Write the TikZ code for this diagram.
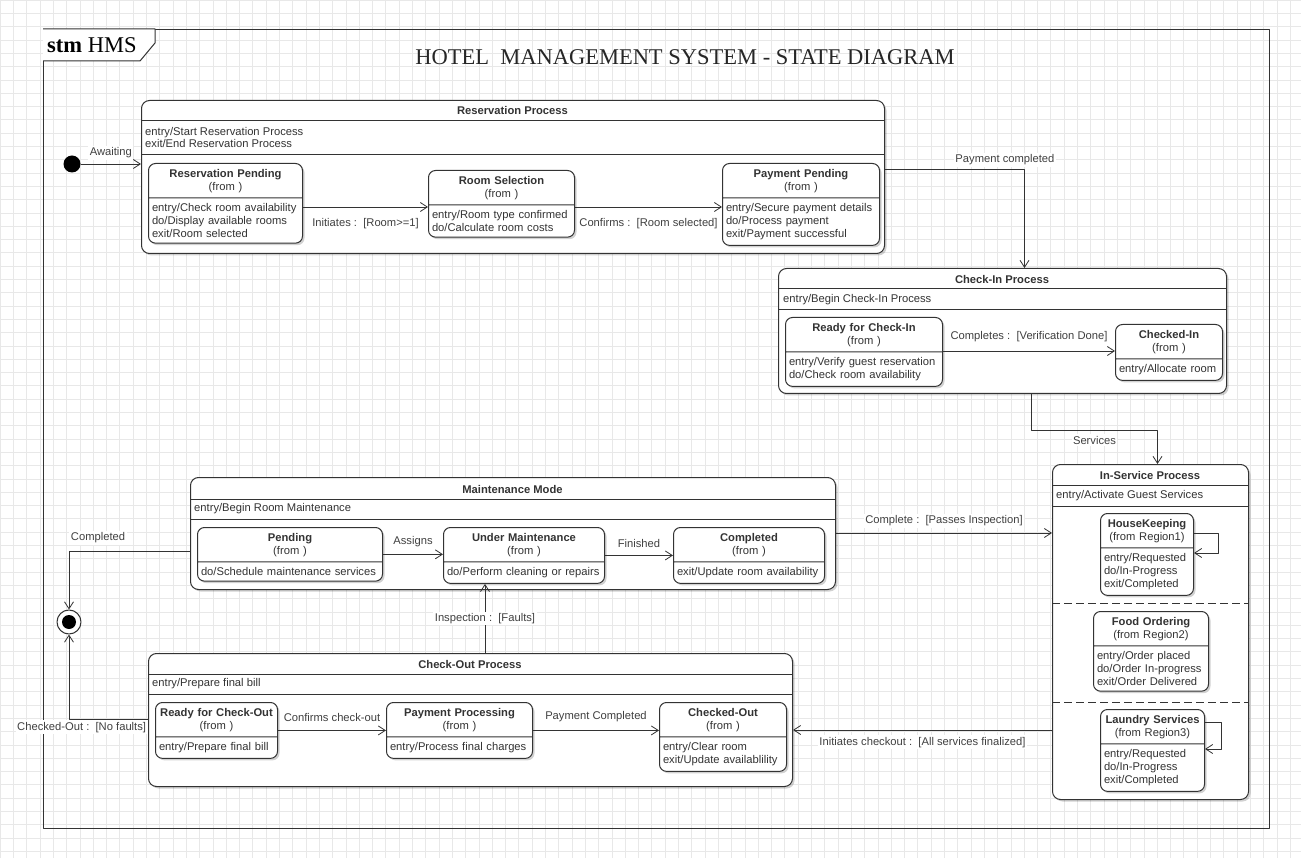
\documentclass[tikz,border=0pt]{standalone}
\usepackage{fontspec}
\setmainfont{Liberation Sans}
\newfontfamily\serifhead{Liberation Serif}
\usetikzlibrary{arrows.meta, shapes.multipart, shadows}
\newcommand\sthead[2]{\makebox[\hsize]{\textbf{#1}}\\\makebox[\hsize]{#2}}

\begin{document}
\begin{tikzpicture}[x=1pt, y=-1pt, line join=round,
    font=\fontsize{11.2}{13}\selectfont, text=black!80,
    >={Straight Barb[length=7pt, width=9pt]},
    softshadow/.style={drop shadow={shadow xshift=2pt, shadow yshift=-2pt, opacity=0.18, fill=black}},
    superstate/.style={draw=black!80, line width=1pt, rounded corners=8pt, fill=white, anchor=north west, inner sep=0pt, softshadow},
    substate/.style={rectangle split, rectangle split parts=2, draw=black!80, line width=1pt, rounded corners=7pt, fill=white, anchor=north west, align=left, text width=#1, inner xsep=3.5pt, inner ysep=5pt, softshadow},
    sttitle/.style={font=\fontsize{11.2}{13}\selectfont\bfseries, inner sep=0pt},
    actions/.style={anchor=west, align=left, inner sep=0pt},
    divider/.style={draw=black!80, line width=1pt},
    tlabel/.style={fill=white, inner sep=1.5pt, text=black!75},
    trans/.style={->, draw=black!80, line width=0.8pt},
    gridline/.style={draw=black!9, line width=0.5pt}]

    \useasboundingbox (0,0) rectangle (1301,858);
    \fill[white] (0,0) rectangle (1301,858);
    \draw[gridline, step=13.3pt] (0,858) grid (1301,0);

    \node (frame) at (43, 29) [anchor=north west, draw=black!80, line width=1pt, minimum width=1226, minimum height=799, inner sep=0pt] {};
    \draw[divider, fill=white] (frame.north west) -- ++(112,0) -- ++(0,14) -- ++(-15,18) -- (frame.north west |- 0,61);
    \node (tab) at (47, 45) [anchor=west, inner sep=0pt, text=black, font=\serifhead\fontsize{22.5}{24}\selectfont] {\textbf{stm} HMS};
    \node (title) at (685, 57) [text=black!85, font=\serifhead\fontsize{22.5}{24}\selectfont] {HOTEL\ \ MANAGEMENT SYSTEM - STATE DIAGRAM};

    \node (resproc) at (141, 100) [superstate, minimum width=743, minimum height=153] {};
    \node (chkinproc) at (778, 268) [superstate, minimum width=448, minimum height=125] {};
    \node (servproc) at (1052, 464) [superstate, minimum width=196, minimum height=335] {};
    \node (maintproc) at (190, 477) [superstate, minimum width=645, minimum height=112] {};
    \node (chkoutproc) at (148, 653) [superstate, minimum width=644, minimum height=133] {};

    \draw[divider] (resproc.west |- 0,121) -- (resproc.east |- 0,121);
    \draw[divider] (resproc.west |- 0,155) -- (resproc.east |- 0,155);
    \draw[divider] (chkinproc.west |- 0,289) -- (chkinproc.east |- 0,289);
    \draw[divider] (chkinproc.west |- 0,310) -- (chkinproc.east |- 0,310);
    \draw[divider] (servproc.west |- 0,485) -- (servproc.east |- 0,485);
    \draw[divider] (servproc.west |- 0,506) -- (servproc.east |- 0,506);
    \draw[divider, dash pattern=on 8pt off 4pt] (servproc.west |- 0,603) -- (servproc.east |- 0,603);
    \draw[divider, dash pattern=on 8pt off 4pt] (servproc.west |- 0,702) -- (servproc.east |- 0,702);
    \draw[divider] (maintproc.west |- 0,499) -- (maintproc.east |- 0,499);
    \draw[divider] (maintproc.west |- 0,519) -- (maintproc.east |- 0,519);
    \draw[divider] (chkoutproc.west |- 0,674) -- (chkoutproc.east |- 0,674);
    \draw[divider] (chkoutproc.west |- 0,694) -- (chkoutproc.east |- 0,694);

    \node (resproc-t) at (512.5, 110.5) [sttitle] {Reservation Process};
    \node (resproc-a) at (145, 137.5) [actions] {entry/Start Reservation Process\\exit/End Reservation Process};
    \node (chkinproc-t) at (1002, 279) [sttitle] {Check-In Process};
    \node (chkinproc-a) at (783, 299.5) [actions] {entry/Begin Check-In Process};
    \node (servproc-t) at (1150, 475) [sttitle] {In-Service Process};
    \node (servproc-a) at (1056, 495.5) [actions] {entry/Activate Guest Services};
    \node (maintproc-t) at (512.5, 489) [sttitle] {Maintenance Mode};
    \node (maintproc-a) at (194, 509) [actions] {entry/Begin Room Maintenance};
    \node (chkoutproc-t) at (470, 664) [sttitle] {Check-Out Process};
    \node (chkoutproc-a) at (152, 684) [actions] {entry/Prepare final bill};

    \node (respend) at (148, 163) [substate=147pt] {\sthead{Reservation Pending}{(from )}\nodepart{two}entry/Check room availability\\do/Display available rooms\\exit/Room selected};
    \node (roomsel) at (428, 170) [substate=139pt] {\sthead{Room Selection}{(from )}\nodepart{two}entry/Room type confirmed\\do/Calculate room costs};
    \node (paypend) at (722, 163) [substate=150pt] {\sthead{Payment Pending}{(from )}\nodepart{two}entry/Secure payment details\\do/Process payment\\exit/Payment successful};
    \node (readyin) at (785, 317) [substate=150pt] {\sthead{Ready for Check-In}{(from )}\nodepart{two}entry/Verify guest reservation\\do/Check room availability};
    \node (checkedin) at (1115, 324) [substate=100pt] {\sthead{Checked-In}{(from )}\nodepart{two}entry/Allocate room};
    \node (housekeep) at (1100, 513) [substate=86pt] {\sthead{HouseKeeping}{(from Region1)}\nodepart{two}entry/Requested\\do/In-Progress\\exit/Completed};
    \node (food) at (1093, 611) [substate=108pt] {\sthead{Food Ordering}{(from Region2)}\nodepart{two}entry/Order placed\\do/Order In-progress\\exit/Order Delivered};
    \node (laundry) at (1100, 709) [substate=97pt] {\sthead{Laundry Services}{(from Region3)}\nodepart{two}entry/Requested\\do/In-Progress\\exit/Completed};
    \node (pending) at (197, 527) [substate=178pt] {\sthead{Pending}{(from )}\nodepart{two}do/Schedule maintenance services};
    \node (undermaint) at (443, 527) [substate=154pt] {\sthead{Under Maintenance}{(from )}\nodepart{two}do/Perform cleaning or repairs};
    \node (completed) at (673, 527) [substate=144pt] {\sthead{Completed}{(from )}\nodepart{two}exit/Update room availability};
    \node (readyout) at (155, 702) [substate=115pt] {\sthead{Ready for Check-Out}{(from )}\nodepart{two}entry/Prepare final bill};
    \node (payproc) at (386, 702) [substate=139pt] {\sthead{Payment Processing}{(from )}\nodepart{two}entry/Process final charges};
    \node (checkedout) at (659, 702) [substate=120pt] {\sthead{Checked-Out}{(from )}\nodepart{two}entry/Clear room\\exit/Update availablility};

    \node (init) at (72, 164) [circle, fill=black, minimum size=17, inner sep=0pt] {};
    \node (final) at (69, 622) [circle, draw=black!80, line width=1pt, fill=white, minimum size=24, inner sep=0pt, path picture={\fill[black] (path picture bounding box.center) circle (7pt);}] {};

    \draw[trans] (init) -- node[tlabel, above=4pt] {Awaiting} (init -| resproc.west);
    \draw[trans] (respend.east |- 0,207) -- node[tlabel, below=9pt] {Initiates :\ \ [Room>=1]} (roomsel.west |- 0,207);
    \draw[trans] (roomsel.east |- 0,207) -- node[tlabel, below=9pt] {Confirms :\ \ [Room selected]} (paypend.west |- 0,207);
    \draw[trans] (resproc.east |- 0,169) -| node[tlabel, above=2pt, pos=0.43] {Payment completed} ([xshift=22pt]chkinproc.north);
    \draw[trans] (readyin.east |- 0,351) -- node[tlabel, above=7pt] {Completes :\ \ [Verification Done]} (checkedin.west |- 0,351);
    \draw[trans] ([xshift=29pt]chkinproc.south) -- ++(0,36) -| node[tlabel, below=4pt, pos=0.25] {Services} ([xshift=7pt]servproc.north);
    \draw[trans] (housekeep.east |- 0,533) -- ++(24,0) |- (housekeep.east |- 0,553);
    \draw[trans] (laundry.east |- 0,722) -- ++(16,0) |- (laundry.east |- 0,749);
    \draw[trans] (maintproc.east |- 0,533) -- node[tlabel, above=5pt] {Complete :\ \ [Passes Inspection]} (servproc.west |- 0,533);
    \draw[trans] (servproc.west |- 0,730) -- node[tlabel, below=5pt] {Initiates checkout :\ \ [All services finalized]} (chkoutproc.east |- 0,730);
    \draw[trans] (pending.east) -- node[tlabel, above=6pt] {Assigns} (undermaint.west |- pending.east);
    \draw[trans] (undermaint.east) -- node[tlabel, above=6pt] {Finished} (completed.west |- undermaint.east);
    \draw[trans] (chkoutproc.north -| 485,0) -- node[tlabel] {Inspection :\ \ [Faults]} (undermaint.south -| 485,0);
    \draw[trans] (readyout) -- node[tlabel, above=7pt] {Confirms check-out} (payproc);
    \draw[trans] (payproc) -- node[tlabel, above=7pt] {Payment Completed} (checkedout.west |- payproc);
    \draw[trans] (maintproc.west |- 0,551) -| node[tlabel, above=6pt, pos=0.38] {Completed} (final);
    \draw[trans] (chkoutproc.west |- 0,719) -| node[tlabel, below=1pt, pos=0.42] {Checked-Out :\ \ [No faults]} (final);
\end{tikzpicture}
\end{document}
